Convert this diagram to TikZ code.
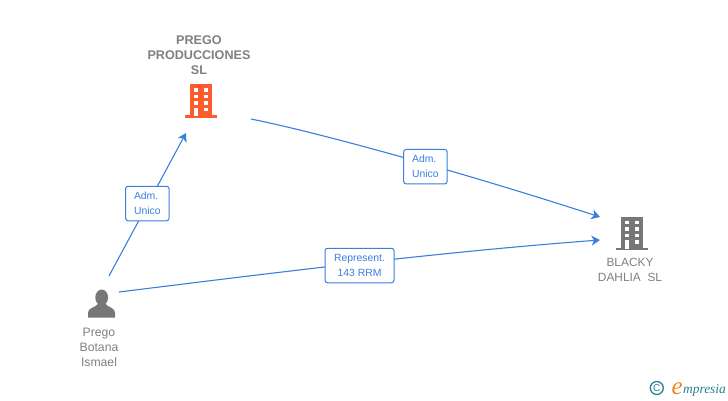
\documentclass[tikz,border=0pt]{standalone}
\usepackage{fontspec}
\setmainfont{Liberation Sans}
\newfontfamily\logofont{Liberation Serif}
\usetikzlibrary{arrows.meta}

\definecolor{linkblue}{HTML}{3A7FDC}
\definecolor{iconorange}{HTML}{FF5C2E}
\definecolor{icongray}{HTML}{777777}
\definecolor{namegray}{HTML}{808080}
\definecolor{logoteal}{HTML}{2A7F92}
\definecolor{logoorange}{HTML}{F58220}

\tikzset{
    link/.style={linkblue, line width=1.1pt, -{Stealth[length=8.5pt,width=10pt,inset=2.5pt]}},
    relbox/.style={draw=linkblue, line width=1pt, fill=white, rounded corners=2.5pt, text=linkblue,
        font=\fontsize{10.4}{15}\selectfont, inner sep=0pt, align=center},
    company/.style={text=namegray, font=\fontsize{12.6}{15}\selectfont\bfseries, align=center, inner sep=0pt},
    holder/.style={text=namegray, font=\fontsize{12.2}{15}\selectfont, align=center, inner sep=0pt},
    pics/building/.style={code={
        \fill[#1] (-11,-32) rectangle (11,0);
        \fill[#1] (-16,-1) rectangle (16,1.5);
        % Windows
        \foreach \wy in {-28,-21.5,-15,-8.5}
            \fill[white] (2.7,\wy) rectangle (7.3,\wy+3.6);
        \foreach \wy in {-28,-21.5,-15}
            \fill[white] (-7.3,\wy) rectangle (-2.7,\wy+3.6);
        \fill[white] (-7.3,-8.5) rectangle (-2.7,0);
    }},
}

\begin{document}
\begin{tikzpicture}[x=1pt, y=-1pt]
    \useasboundingbox (0,0) rectangle (728,400);

    % Icons
    \pic at (201,116) {building=iconorange};
    \pic at (632,248.5) {building=icongray};

    % Person
    \fill[icongray] (101.7,297.5) ellipse (6.4 and 8);
    \fill[icongray] (88,317.7) -- (88,312.5) .. controls (88,308) and (95,307.5) .. (98,304)
        -- (105.5,304) .. controls (108.5,307.5) and (115,308) .. (115,312.5) -- (115,317.7) -- cycle;

    % Names
    \node[company] (prod) at (199,55) {PREGO\\PRODUCCIONES\\SL};
    \node[holder, font=\fontsize{11.9}{15}\selectfont] (blacky) at (630,269.5) {BLACKY\\DAHLIA\ \ SL};
    \node[holder] (prego) at (99,347) {Prego\\Botana\\Ismael};

    % Connector ends
    \coordinate (pregoA) at (109,276);
    \coordinate (pregoB) at (119,292);
    \coordinate (prodIn) at (186,133);
    \coordinate (prodOut) at (251,119);
    \coordinate (blackyA) at (600,217);
    \coordinate (blackyB) at (600,240);

    % Connectors
    \draw[link] (pregoA) -- (prodIn);
    \draw[link] (prodOut) .. controls (330,135) and (480,178) .. (blackyA);
    \draw[link] (pregoB) .. controls (280,272) and (440,252) .. (blackyB);

    % Relations
    \node[relbox, minimum width=43.5pt, minimum height=34.5pt, align=left] (admA) at (147.3,203.5) {Adm.\\Unico};
    \node[relbox, minimum width=43.5pt, minimum height=34.5pt, align=left] (admB) at (425.4,166.7) {Adm.\\Unico};
    \node[relbox, minimum width=69pt, minimum height=34.5pt] (rep) at (359.5,265.5) {Represent.\\143 RRM};

    % Logo
    \node[draw=logoteal, line width=1.3pt, circle, minimum size=13pt, inner sep=0pt, text=logoteal,
        font=\fontsize{10}{10}\selectfont] (copy) at (656.8,388) {C};
    \node[text=logoorange, font=\fontsize{25}{25}\logofont\itshape, inner sep=0pt, anchor=base west] (logoe) at (671.5,394.5) {e};
    \node[text=logoteal, font=\fontsize{13.4}{14}\logofont\itshape, inner sep=0pt, anchor=base west] (logo) at (683,393) {mpresia};
\end{tikzpicture}
\end{document}
